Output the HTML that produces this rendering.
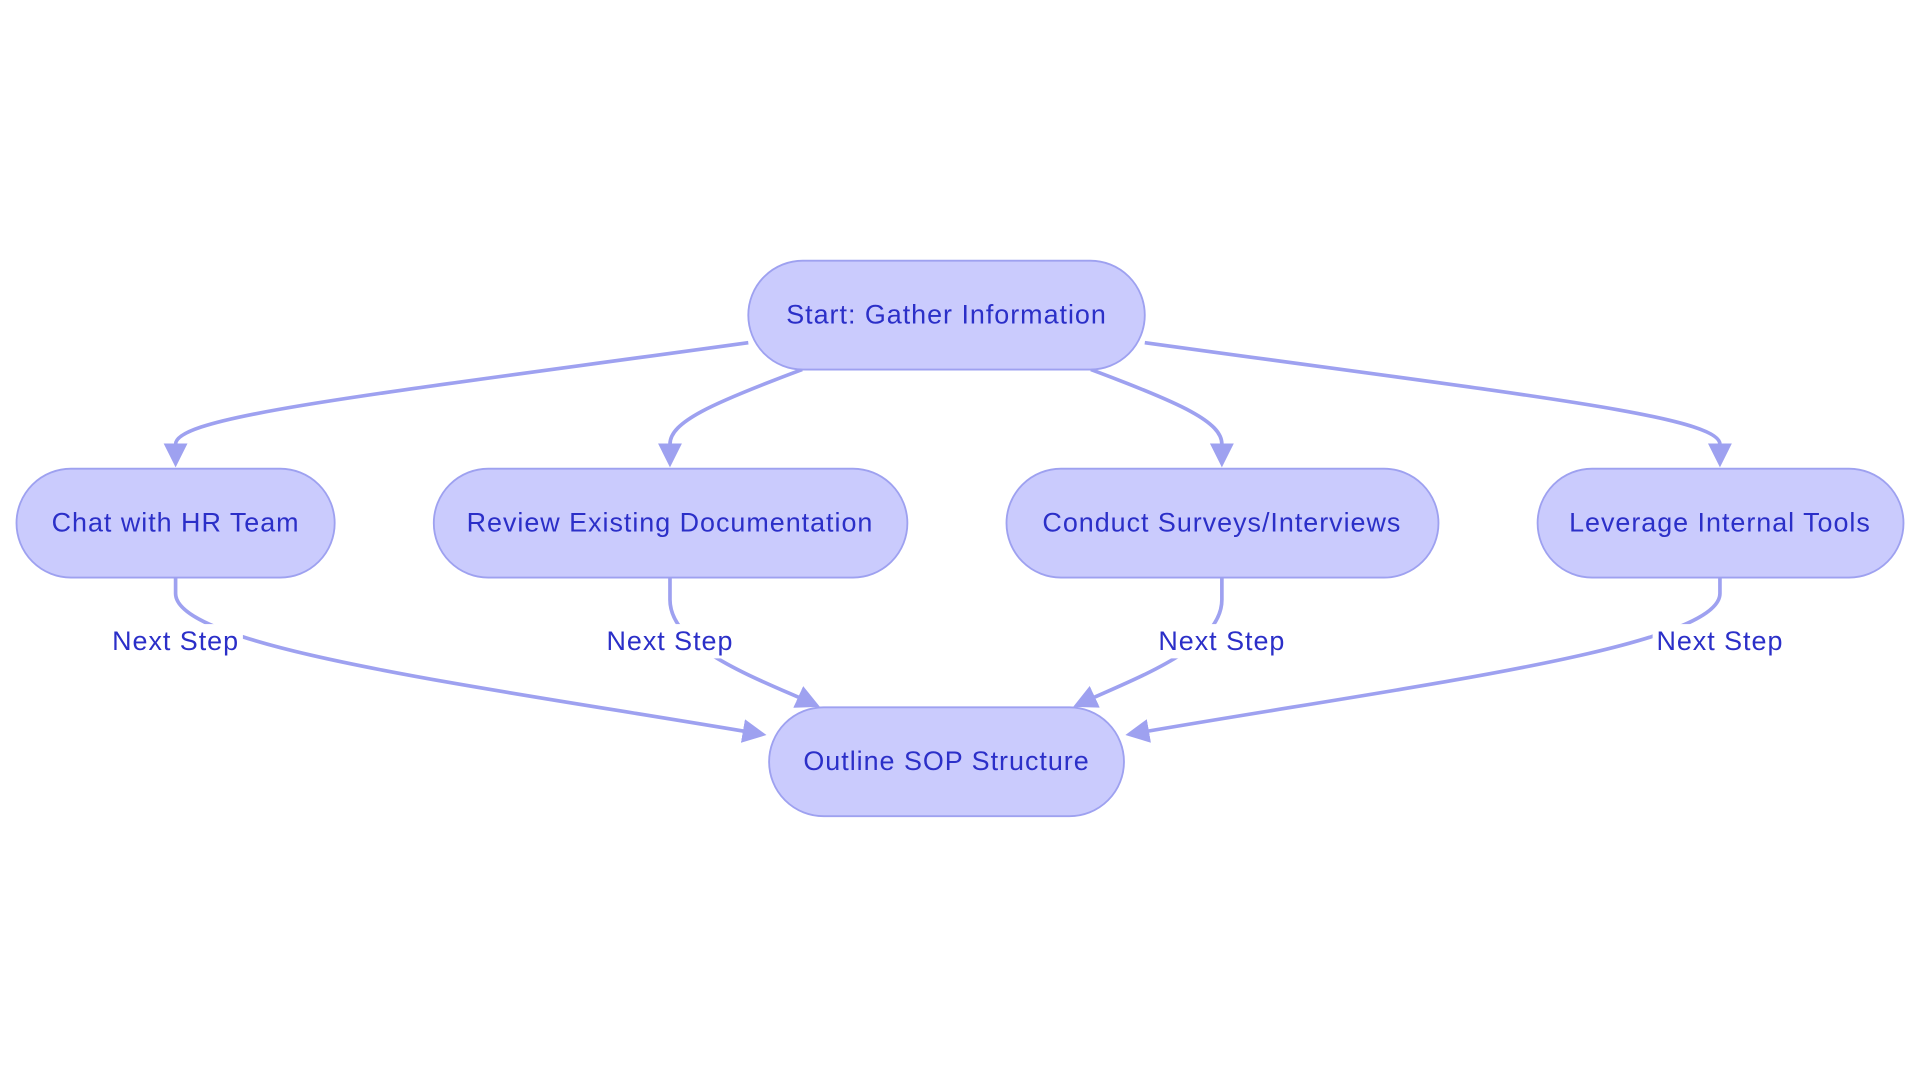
<!DOCTYPE html>
<html><head><meta charset="utf-8"><style>html,body{margin:0;padding:0;background:#fff}svg{display:block}</style></head>
<body>
<svg width="1920" height="1083" viewBox="0 0 1568 885" xmlns="http://www.w3.org/2000/svg" font-family="Liberation Sans, sans-serif">
<defs><marker id="a" viewBox="0 0 10 10" refX="8" refY="5" markerWidth="6.5" markerHeight="6.5" orient="auto"><path d="M0,0L10,5L0,10z" fill="#9ea1f0"/></marker></defs>
<g fill="none" stroke="#9ea1f0" stroke-width="3">
<path d="M611,280 C300,323 143,340 143,363 L143,378" marker-end="url(#a)"/>
<path d="M655,302 C580,330 547,345 547,363 L547,378" marker-end="url(#a)"/>
<path d="M891,302 C966,330 998,345 998,363 L998,378" marker-end="url(#a)"/>
<path d="M935,280 C1246,323 1405,340 1405,363 L1405,378" marker-end="url(#a)"/>
<path d="M143,472 L143,485 C143,530 400,562 622,600" marker-end="url(#a)"/>
<path d="M547,472 L547,490 C547,530 620,555 666,576" marker-end="url(#a)"/>
<path d="M998,472 L998,490 C998,530 925,555 880,576" marker-end="url(#a)"/>
<path d="M1405,472 L1405,485 C1405,530 1140,562 923,600" marker-end="url(#a)"/>
</g>
<g fill="#cacbfd" stroke="#9ea1f0" stroke-width="1.5">
<rect x="611" y="213" width="324" height="89" rx="44.5"/>
<rect x="13" y="383" width="260" height="89" rx="44.5"/>
<rect x="354" y="383" width="387" height="89" rx="44.5"/>
<rect x="822" y="383" width="353" height="89" rx="44.5"/>
<rect x="1256" y="383" width="299" height="89" rx="44.5"/>
<rect x="628" y="578" width="290" height="89" rx="44.5"/>
</g>
<g fill="#fff">
<rect x="88" y="510" width="110" height="28"/>
<rect x="492" y="510" width="110" height="28"/>
<rect x="943" y="510" width="110" height="28"/>
<rect x="1350" y="510" width="110" height="28"/>
</g>
<g fill="#2b2fc8" font-size="22" letter-spacing="0.8" text-anchor="middle" dominant-baseline="central">
<text x="773" y="257">Start: Gather Information</text>
<text x="143" y="427">Chat with HR Team</text>
<text x="547" y="427">Review Existing Documentation</text>
<text x="998" y="427">Conduct Surveys/Interviews</text>
<text x="1405" y="427">Leverage Internal Tools</text>
<text x="773" y="622">Outline SOP Structure</text>
<text x="143" y="524">Next Step</text>
<text x="547" y="524">Next Step</text>
<text x="998" y="524">Next Step</text>
<text x="1405" y="524">Next Step</text>
</g>
</svg>
</body></html>
